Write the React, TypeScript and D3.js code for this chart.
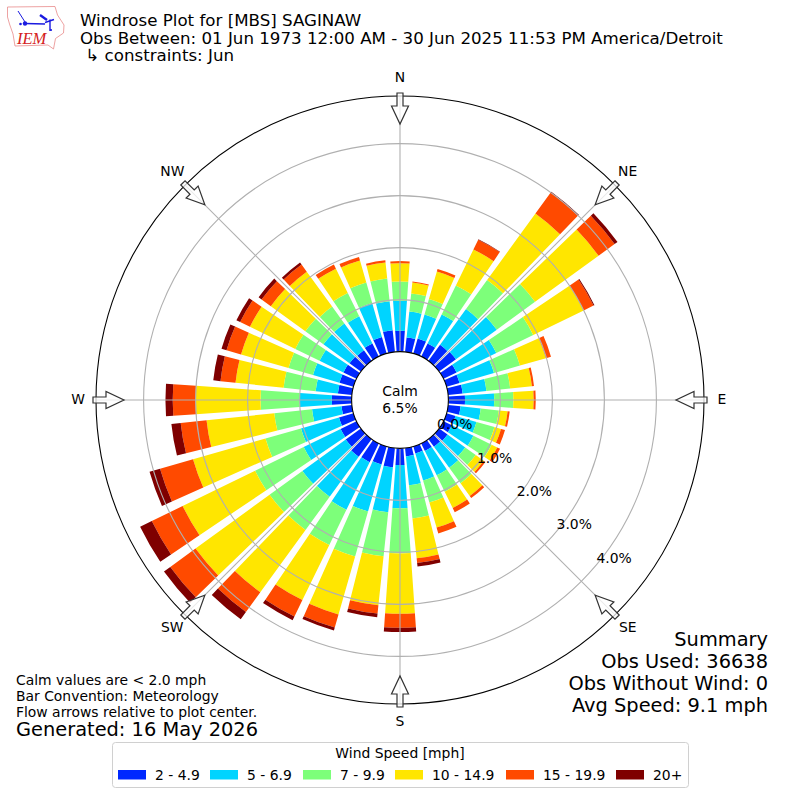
import * as d3 from "d3";

const BEARINGS = d3.range(0, 360, 10);

// percent of observations per direction, one array per speed bin (N, 10, 20 ... 350)
const SPEED_2_5 = [0.40, 0.28, 0.30, 0.28, 0.38, 0.40, 0.28, 0.26, 0.28, 0.32, 0.24, 0.18, 0.18, 0.20, 0.18, 0.16, 0.14, 0.16, 0.32, 0.37, 0.36, 0.40, 0.42, 0.36, 0.34, 0.29, 0.20, 0.38, 0.27, 0.28, 0.28, 0.27, 0.25, 0.28, 0.33, 0.42];
const SPEED_5_7 = [0.58, 0.50, 0.48, 0.62, 0.85, 0.97, 0.85, 0.69, 0.46, 0.56, 0.39, 0.42, 0.46, 0.42, 0.50, 0.52, 0.54, 0.56, 0.83, 0.87, 0.94, 1.02, 0.95, 1.03, 0.79, 0.76, 0.57, 0.62, 0.43, 0.53, 0.51, 0.62, 0.64, 0.58, 0.68, 0.56];
const SPEED_7_10 = [0.37, 0.35, 0.31, 0.62, 0.69, 0.91, 0.79, 0.52, 0.46, 0.37, 0.35, 0.36, 0.39, 0.25, 0.37, 0.35, 0.44, 0.64, 0.87, 0.85, 0.90, 0.75, 0.79, 0.78, 1.04, 0.71, 0.73, 0.75, 0.62, 0.49, 0.52, 0.43, 0.40, 0.50, 0.41, 0.44];
const SPEED_10_15 = [0.35, 0.21, 0.55, 0.77, 1.58, 1.51, 1.08, 0.52, 0.42, 0.39, 0.17, 0.13, 0.12, 0.19, 0.30, 0.35, 0.50, 0.77, 1.16, 0.95, 1.16, 1.18, 1.48, 1.76, 1.55, 1.45, 1.31, 1.25, 0.93, 0.95, 0.97, 0.82, 0.83, 0.52, 0.44, 0.31];
const SPEED_15_20 = [0.04, 0.02, 0.05, 0.21, 0.50, 0.38, 0.21, 0.10, 0.04, 0.04, 0.04, 0.08, 0.06, 0.04, 0.05, 0.09, 0.12, 0.09, 0.27, 0.16, 0.26, 0.35, 0.47, 0.60, 0.66, 0.66, 0.50, 0.44, 0.29, 0.29, 0.21, 0.22, 0.17, 0.09, 0.07, 0.04];
const SPEED_20_UP = [0, 0, 0, 0.01, 0.02, 0.07, 0.02, 0, 0, 0, 0, 0, 0, 0, 0, 0, 0, 0.07, 0.08, 0.07, 0.06, 0.08, 0.17, 0.15, 0.25, 0.21, 0.18, 0.14, 0.14, 0.10, 0.08, 0.07, 0.05, 0, 0, 0];

const SPEED_LABELS = ["2 - 4.9", "5 - 6.9", "7 - 9.9", "10 - 14.9", "15 - 19.9", "20+"];
const SPEED_COLORS = ["#0028ff", "#00d4ff", "#7dff7a", "#ffe600", "#ff4a00", "#7f0000"];
const SPEED_SERIES = [SPEED_2_5, SPEED_5_7, SPEED_7_10, SPEED_10_15, SPEED_15_20, SPEED_20_UP];

const RING_TICKS = [0, 1, 2, 3, 4];
const COMPASS_LABELS = ["N", "NE", "E", "SE", "S", "SW", "W", "NW"];
const COMPASS_BEARINGS = [0, 45, 90, 135, 180, 225, 270, 315];

const TITLE_LINES = [
  "Windrose Plot for [MBS] SAGINAW",
  "Obs Between: 01 Jun 1973 12:00 AM - 30 Jun 2025 11:53 PM America/Detroit",
  " ↳ constraints: Jun",
];
const NOTE_LINES = ["Calm values are < 2.0 mph", "Bar Convention: Meteorology", "Flow arrows relative to plot center."];
const SUMMARY_LINES = ["Summary", "Obs Used: 36638", "Obs Without Wind: 0", "Avg Speed: 9.1 mph"];

const LEGEND_SWATCH_X = [118, 210, 303, 395, 506, 616];

const FONT = "'DejaVu Sans', sans-serif";
const cx = 400;
const cy = 400;
const outerR = 304;

const r = d3.scaleLinear().domain([0, 1]).range([48.4, 100.4]);
const rad = (deg: number) => (deg * Math.PI) / 180;
const polar = (bearing: number, radius: number): [number, number] => [
  cx + radius * Math.sin(rad(bearing)),
  cy - radius * Math.cos(rad(bearing)),
];

const rows = BEARINGS.map((bearing, i) => {
  const row: Record<string, number> = { bearing };
  SPEED_LABELS.forEach((label, s) => {
    row[label] = SPEED_SERIES[s][i];
  });
  return row;
});
const stacked = d3.stack<Record<string, number>>().keys(SPEED_LABELS)(rows);

const barArc = d3.arc<{ inner: number; outer: number; bearing: number }>()
  .innerRadius((d) => d.inner)
  .outerRadius((d) => d.outer)
  .startAngle((d) => rad(d.bearing - 4))
  .endAngle((d) => rad(d.bearing + 4));

function arrowPath() {
  // points at the center, drawn on the N spoke, then rotated into place
  const p = d3.path();
  p.moveTo(-3, -307);
  p.lineTo(3, -307);
  p.lineTo(3, -294);
  p.lineTo(8.5, -294);
  p.lineTo(0, -276);
  p.lineTo(-8.5, -294);
  p.lineTo(-3, -294);
  p.closePath();
  return p.toString();
}

function Logo() {
  return (
    <g>
      <path
        d="M7.5 7 L55 6.5 L57.5 15 L64 25 L63.5 33 L55.5 38.5 L53.5 49 L48 45 L15 46 L13 34 L9.5 24 L7.5 17 Z"
        fill="#fff"
        stroke="#e88a8a"
        strokeWidth={0.8}
      />
      <g stroke="#1a1ae0" fill="none" strokeWidth={1.2}>
        <path d="M25 23.5 L45 24 M45 22.5 L54 19.5 M50 19.5 L50 31" strokeWidth={1.4} />
        <path d="M18 11 L25 22" strokeWidth={1} />
        <path d="M40 15 L47 20" strokeWidth={2.4} />
      </g>
      <circle cx={25} cy={23.5} r={2.2} fill="#1a1ae0" />
      <circle cx={20.5} cy={24} r={1.3} fill="#1a1ae0" />
      <circle cx={51} cy={30} r={1.1} fill="#1a1ae0" />
      <text x={17} y={44} fontFamily="'Liberation Serif', serif" fontStyle="italic" fontSize={16.5} fill="#d42020">
        IEM
      </text>
    </g>
  );
}

export default function App() {
  return (
    <svg
      width={800}
      height={800}
      viewBox="0 0 800 800"
      style={{ position: "absolute", left: 0, top: 0, background: "#fff" }}
      fontFamily={FONT}
    >
      <Logo />
      <g fontSize={16.67} fill="#000">
        {TITLE_LINES.map((line, i) => (
          <text key={line} x={80} y={26 + i * 17.5} xmlSpace="preserve">
            {line}
          </text>
        ))}
      </g>

      <g transform={`translate(${cx},${cy})`}>
        {stacked.map((layer, s) =>
          layer.map((d, i) =>
            d[1] > d[0] ? (
              <path
                key={`${s}-${i}`}
                d={barArc({ inner: r(d[0]), outer: r(d[1]), bearing: BEARINGS[i] }) ?? ""}
                fill={SPEED_COLORS[s]}
              />
            ) : null,
          ),
        )}
      </g>

      {/* grid */}
      <g fill="none" stroke="#b0b0b0" strokeWidth={1.1}>
        {RING_TICKS.filter((t) => t > 0).map((t) => (
          <circle key={t} cx={cx} cy={cy} r={r(t)} />
        ))}
        {COMPASS_BEARINGS.map((b) => {
          const [x1, y1] = polar(b, r(0));
          const [x2, y2] = polar(b, outerR);
          return <line key={b} x1={x1} y1={y1} x2={x2} y2={y2} />;
        })}
      </g>
      <circle cx={cx} cy={cy} r={outerR} fill="none" stroke="#000" strokeWidth={1.1} />
      <circle cx={cx} cy={cy} r={r(0)} fill="#fff" stroke="#000" strokeWidth={1.1} />

      {COMPASS_BEARINGS.map((b) => (
        <path
          key={b}
          d={arrowPath()}
          transform={`translate(${cx},${cy}) rotate(${b})`}
          fill="#fff"
          fillOpacity={0.75}
          stroke="#333"
          strokeWidth={1.2}
        />
      ))}

      <g fontSize={13.9} textAnchor="middle" dominantBaseline="central" fill="#000">
        {COMPASS_LABELS.map((label, i) => {
          const [x, y] = polar(COMPASS_BEARINGS[i], 322);
          return (
            <text key={label} x={x} y={y - 1}>
              {label}
            </text>
          );
        })}
        <text x={cx} y={391}>Calm</text>
        <text x={cx} y={408}>6.5%</text>
      </g>

      <g fontSize={13.9} dominantBaseline="central" fill="#000">
        {RING_TICKS.map((t) => {
          const [x, y] = polar(130, r(t));
          return (
            <text key={t} x={x} y={y - 7}>
              {t.toFixed(1)}%
            </text>
          );
        })}
      </g>

      <g fontSize={13.9} fill="#000">
        {NOTE_LINES.map((line, i) => (
          <text key={line} x={16} y={685 + i * 16}>
            {line}
          </text>
        ))}
      </g>
      <text x={16} y={736} fontSize={19.4} fill="#000">
        Generated: 16 May 2026
      </text>

      <g fontSize={19.4} textAnchor="end" fill="#000">
        {SUMMARY_LINES.map((line, i) => (
          <text key={line} x={768} y={646 + i * 22}>
            {line}
          </text>
        ))}
      </g>

      {/* legend */}
      <rect x={112.5} y={742.5} width={576} height={45} rx={3} fill="#fff" stroke="#d0d0d0" strokeWidth={1} />
      <text x={400} y={758} fontSize={13.9} textAnchor="middle" fill="#000">
        Wind Speed [mph]
      </text>
      {SPEED_LABELS.map((label, i) => (
        <g key={label}>
          <rect x={LEGEND_SWATCH_X[i]} y={770} width={28} height={9.5} fill={SPEED_COLORS[i]} />
          <text x={LEGEND_SWATCH_X[i] + 37} y={779.5} fontSize={13.9} fill="#000">
            {label}
          </text>
        </g>
      ))}
    </svg>
  );
}
